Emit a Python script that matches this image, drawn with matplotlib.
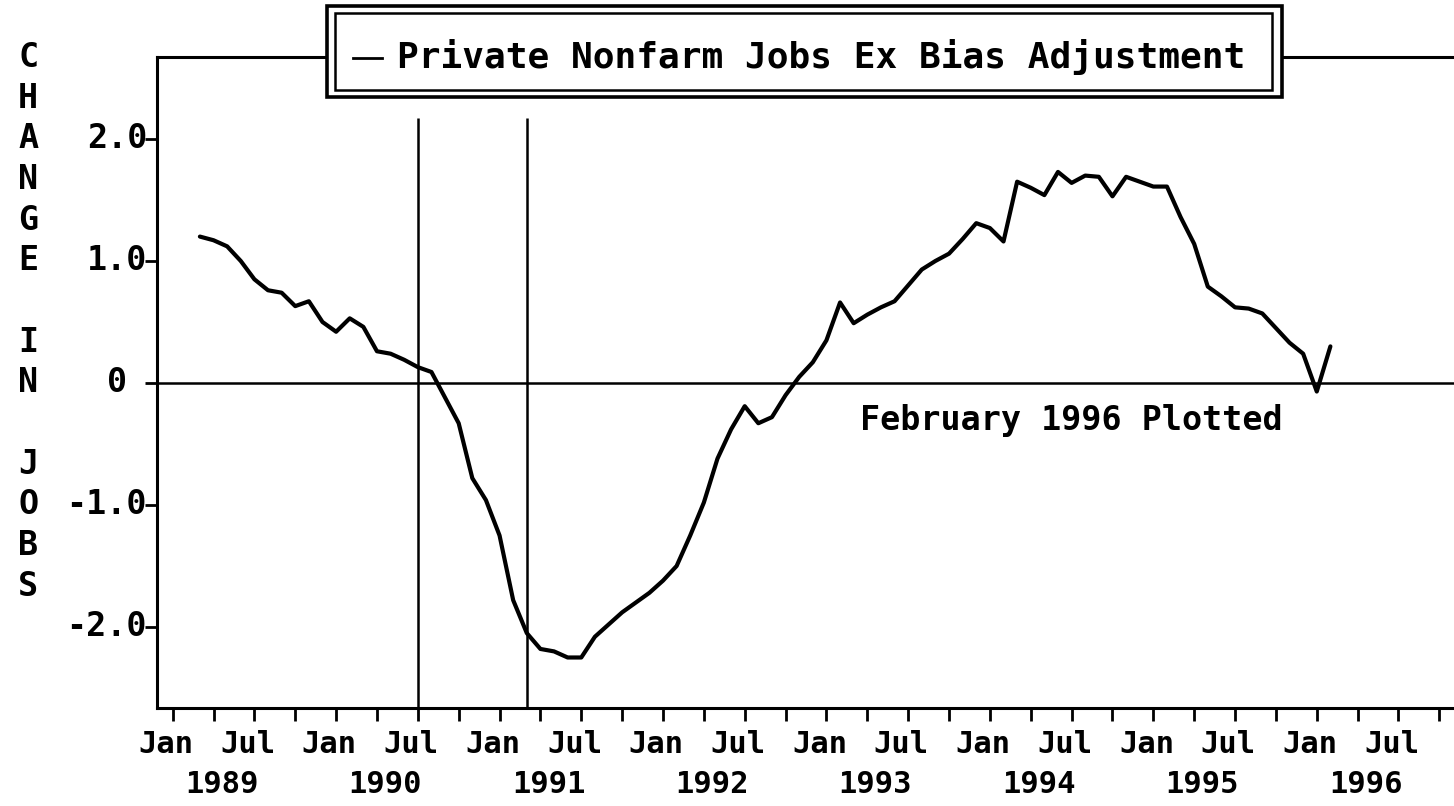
import matplotlib
matplotlib.use('Agg')
import matplotlib.pyplot as plt
from matplotlib.patches import Rectangle
from matplotlib.lines import Line2D

plt.rcParams['font.family'] = ['DejaVu Sans Mono']
plt.rcParams['font.weight'] = 'bold'

# x is months since Jan 1989; series runs Mar 1989 .. Feb 1996
start_month = 2
jobs_change = [
    1.20, 1.17, 1.12, 1.00, 0.85, 0.76, 0.74, 0.63, 0.67, 0.50,   # Mar 89 - Dec 89
    0.42, 0.53, 0.46, 0.26, 0.24, 0.19, 0.13, 0.09, -0.12, -0.33, -0.78, -0.96,  # 1990
    -1.25, -1.78, -2.05, -2.18, -2.20, -2.25, -2.25, -2.08, -1.98, -1.88, -1.80, -1.72,  # 1991
    -1.62, -1.50, -1.25, -0.98, -0.62, -0.38, -0.19, -0.33, -0.28, -0.10, 0.05, 0.17,  # 1992
    0.35, 0.66, 0.49, 0.56, 0.62, 0.67, 0.80, 0.93, 1.00, 1.06, 1.18, 1.31,  # 1993
    1.27, 1.16, 1.65, 1.60, 1.54, 1.73, 1.64, 1.70, 1.69, 1.53, 1.69, 1.65,  # 1994
    1.61, 1.61, 1.36, 1.14, 0.79, 0.71, 0.62, 0.61, 0.57, 0.45, 0.33, 0.24,  # 1995
    -0.07, 0.30,  # Jan, Feb 1996
]
months = list(range(start_month, start_month + len(jobs_change)))

recession_months = [18, 26]   # Jul 1990, Mar 1991
y_ticks = [2.0, 1.0, 0.0, -1.0, -2.0]
y_tick_labels = ['2.0', '1.0', '0', '-1.0', '-2.0']
years = [1989, 1990, 1991, 1992, 1993, 1994, 1995, 1996]
legend_label = 'Private Nonfarm Jobs Ex Bias Adjustment'
note = 'February 1996 Plotted'
ylabel = 'CHANGE IN JOBS'

W, H = 1454, 806
fig = plt.figure(figsize=(W / 100, H / 100), dpi=100)
ax = fig.add_axes([157 / W, (H - 708) / H, (1470 - 157) / W, (708 - 57) / H])

ax.plot(months, jobs_change, color='black', lw=3, solid_joinstyle='round',
        solid_capstyle='round', zorder=3)
ax.set_xlim(-1.15, 95.25)
ax.set_ylim(-2.664, 2.672)
ax.vlines(recession_months, -2.664, 2.17, color='black', lw=1.8)
ax.axhline(0, color='black', lw=1.8)

for side in ['left', 'bottom', 'top', 'right']:
    ax.spines[side].set_linewidth(2.2)

# quarterly ticks; Jan/Jul on one row, the year under it
ax.set_xticks(range(0, 96, 3))
ax.set_xticklabels([])
ax.tick_params(axis='x', direction='out', length=9, width=2)
xtr = ax.get_xaxis_transform()
for i, yr in enumerate(years):
    m = 12 * i
    ax.text(m - 0.5, -0.0553, 'Jan', transform=xtr, ha='center', va='center',
            fontsize=22)
    ax.text(m + 5.5, -0.0553, 'Jul', transform=xtr, ha='center', va='center',
            fontsize=22)
    ax.text(m + 3.6, -0.1168, str(yr), transform=xtr, ha='center',
            va='center', fontsize=22)

ax.set_yticks(y_ticks)
ax.set_yticklabels([])
ax.tick_params(axis='y', direction='out', length=9, width=2)
ytr = ax.get_yaxis_transform()
for v, lbl in zip(y_ticks, y_tick_labels):
    xo = -0.0228 if lbl == '0' else -0.0076
    ax.text(xo, v, lbl, transform=ytr, ha='right', va='center', fontsize=24)

for i, ch in enumerate(ylabel):
    if ch != ' ':
        ax.text(-0.0982, 8 / 3 - i / 3, ch, transform=ytr, ha='center',
                va='center', fontsize=24)

ax.text(66, -0.31, note, ha='center', va='center', fontsize=24)

# double framed legend box over the top spine
def px_rect(x0, y0, x1, y1, lw):
    return Rectangle((x0 / W, 1 - y1 / H), (x1 - x0) / W, (y1 - y0) / H,
                     transform=fig.transFigure, facecolor='white',
                     edgecolor='black', lw=lw, zorder=5)

fig.patches.append(px_rect(327, 6, 1282, 97, 2.6))
fig.patches.append(px_rect(335, 13, 1272, 90, 1.8))
fig.lines.append(Line2D([353 / W, 382 / W], [1 - 58 / H, 1 - 58 / H],
                        transform=fig.transFigure, color='black', lw=2, zorder=6))
fig.text(397 / W, 1 - 57 / H, legend_label, ha='left', va='center',
         fontsize=26, zorder=6)

fig.savefig('out.png', dpi=100)
